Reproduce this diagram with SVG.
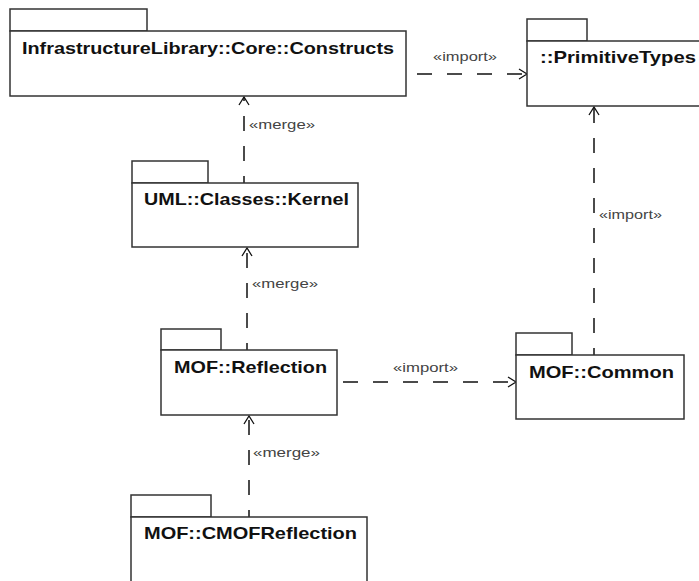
<svg xmlns="http://www.w3.org/2000/svg" width="699" height="581" viewBox="0 0 699 581">
<style>
.pk{fill:#fff;stroke:#333;stroke-width:1.5}
.t{font-family:"Liberation Sans",Arial,sans-serif;font-weight:bold;font-size:17px;fill:#111}
.lbl{font-family:"Liberation Sans",Arial,sans-serif;font-size:12.5px;fill:#444}
.dep{fill:none;stroke:#111;stroke-width:1.5;stroke-dasharray:15,15}
</style>
<defs>
<marker id="open" markerWidth="12" markerHeight="12" refX="9" refY="6" orient="auto" markerUnits="userSpaceOnUse">
<path d="M1,1 L9,6 L1,11" fill="none" stroke="#111" stroke-width="1.3"/>
</marker>
</defs>
<rect width="699" height="581" fill="#fff"/>
<g id="connectors">
<line class="dep" x1="417" y1="74" x2="527" y2="74" marker-end="url(#open)"/>
<text class="lbl" x="433" y="61" textLength="64" lengthAdjust="spacingAndGlyphs">«import»</text>
<line class="dep" x1="244" y1="183" x2="244" y2="97" stroke-dashoffset="8" marker-end="url(#open)"/>
<text class="lbl" x="249" y="129" textLength="66" lengthAdjust="spacingAndGlyphs">«merge»</text>
<line class="dep" x1="247" y1="350" x2="247" y2="248" stroke-dashoffset="8" marker-end="url(#open)"/>
<text class="lbl" x="252" y="288" textLength="66" lengthAdjust="spacingAndGlyphs">«merge»</text>
<line class="dep" x1="249" y1="517" x2="249" y2="416" stroke-dashoffset="8" marker-end="url(#open)"/>
<text class="lbl" x="253" y="457" textLength="67" lengthAdjust="spacingAndGlyphs">«merge»</text>
<line class="dep" x1="343" y1="382" x2="516" y2="382" marker-end="url(#open)"/>
<text class="lbl" x="393" y="372" textLength="65" lengthAdjust="spacingAndGlyphs">«import»</text>
<line class="dep" x1="594" y1="355" x2="594" y2="107" stroke-dashoffset="8" marker-end="url(#open)"/>
<text class="lbl" x="599" y="219" textLength="63" lengthAdjust="spacingAndGlyphs">«import»</text>
</g>
<g id="constructs">
<rect class="pk" x="10" y="9" width="137" height="22"/>
<rect class="pk" x="10" y="31" width="396" height="65"/>
<text class="t" x="22" y="54" textLength="372" lengthAdjust="spacingAndGlyphs">InfrastructureLibrary::Core::Constructs</text>
</g>
<g id="primitivetypes">
<rect class="pk" x="527" y="19" width="60" height="22"/>
<rect class="pk" x="527" y="41" width="190" height="65"/>
<text class="t" x="540" y="63" textLength="156" lengthAdjust="spacingAndGlyphs">::PrimitiveTypes</text>
</g>
<g id="kernel">
<rect class="pk" x="132" y="161" width="76" height="22"/>
<rect class="pk" x="132" y="183" width="226" height="64"/>
<text class="t" x="144" y="205" textLength="205" lengthAdjust="spacingAndGlyphs">UML::Classes::Kernel</text>
</g>
<g id="reflection">
<rect class="pk" x="161" y="329" width="60" height="21"/>
<rect class="pk" x="161" y="350" width="176" height="65"/>
<text class="t" x="174" y="373" textLength="153" lengthAdjust="spacingAndGlyphs">MOF::Reflection</text>
</g>
<g id="common">
<rect class="pk" x="516" y="333" width="56" height="22"/>
<rect class="pk" x="516" y="355" width="168" height="64"/>
<text class="t" x="529" y="378" textLength="145" lengthAdjust="spacingAndGlyphs">MOF::Common</text>
</g>
<g id="cmofreflection">
<rect class="pk" x="131" y="495" width="80" height="22"/>
<rect class="pk" x="131" y="517" width="236" height="80"/>
<text class="t" x="144" y="539" textLength="213" lengthAdjust="spacingAndGlyphs">MOF::CMOFReflection</text>
</g>
</svg>
